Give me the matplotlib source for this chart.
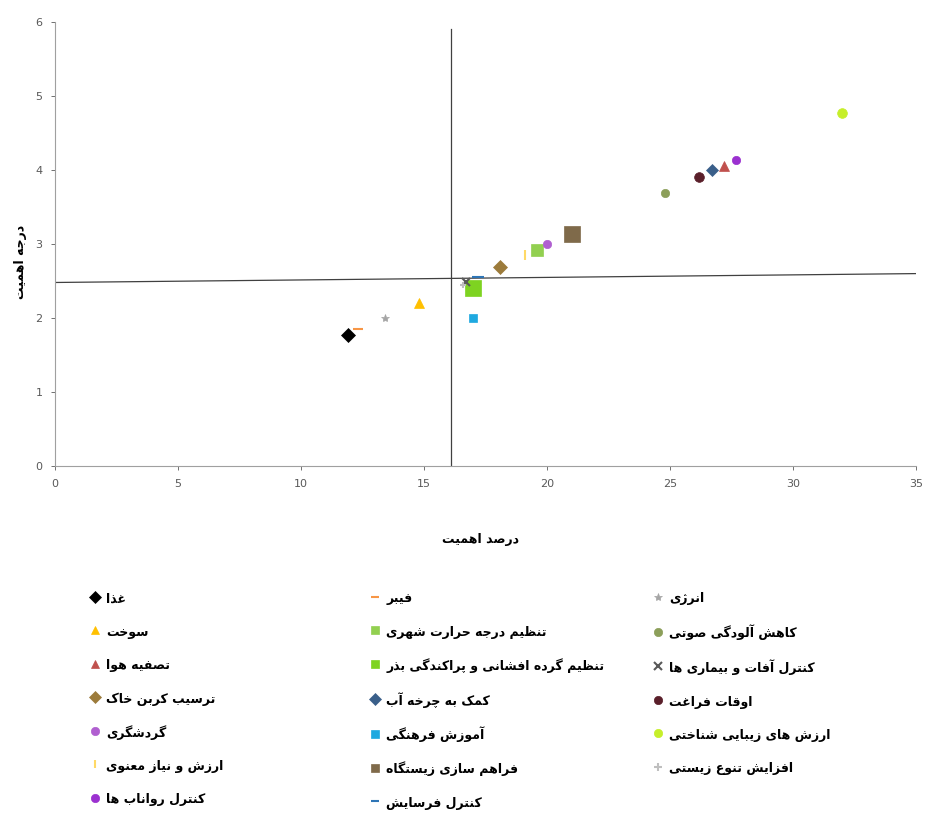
import matplotlib
matplotlib.use("Agg")
import matplotlib.pyplot as plt
from matplotlib.lines import Line2D

# series (legend order, row by row as in the reference)
labels = [
    "غذا", "فیبر", "انرژی",
    "سوخت", "تنظیم درجه حرارت شهری", "کاهش آلودگی صوتی",
    "تصفیه هوا", "تنظیم گرده افشانی و پراکندگی بذر", "کنترل آفات و بیماری ها",
    "ترسیب کربن خاک", "کمک به چرخه آب", "اوقات فراغت",
    "گردشگری", "آموزش فرهنگی", "ارزش های زیبایی شناختی",
    "ارزش و نیاز معنوی", "فراهم سازی زیستگاه", "افزایش تنوع زیستی",
    "کنترل رواناب ها", "کنترل فرسایش",
]
pct = [11.9, 12.3, 13.4, 14.8, 19.6, 24.8, 27.2, 17.0, 16.7, 18.1,
       26.7, 26.2, 20.0, 17.0, 32.0, 19.1, 21.0, 16.6, 27.7, 17.2]
rank = [1.77, 1.85, 2.0, 2.2, 2.92, 3.69, 4.05, 2.4, 2.49, 2.69,
        4.0, 3.91, 3.0, 2.0, 4.77, 2.85, 3.13, 2.45, 4.14, 2.55]

markers = ["D", "_", "*", "^", "s", "o", "^", "s", "x", "D",
           "D", "o", "o", "s", "o", "|", "s", "+", "o", "_"]
sizes = [7, 7, 6, 7, 8, 6, 7, 11, 6, 7, 6, 7, 6, 6, 7, 7, 11, 5, 6, 9]
colors = ["#000000", "#F79646", "#A5A5A5", "#FFC000", "#92D050", "#8C9F5A",
          "#C0504D", "#7ED321", "#595959", "#9C7B3B", "#3A5F8A", "#5A1F2A",
          "#B05FD0", "#1FA9E0", "#C6EF2A", "#FFD966", "#7F6A4A", "#BFBFBF",
          "#9B30D0", "#2E75B6"]

x_ticks = [0, 5, 10, 15, 20, 25, 30, 35]
y_ticks = [0, 1, 2, 3, 4, 5, 6]

# quadrant lines
v_line_x = [16.1, 16.1]
v_line_y = [0, 5.9]
h_line_x = [0, 35]
h_line_y = [2.48, 2.6]

# simple Persian shaping (matplotlib has no bidi / joining support)
FORMS = {
    "ا": ("\uFE8D", "\uFE8E", None, None), "آ": ("\uFE81", "\uFE82", None, None),
    "ب": ("\uFE8F", "\uFE90", "\uFE91", "\uFE92"), "پ": ("\uFB56", "\uFB57", "\uFB58", "\uFB59"),
    "ت": ("\uFE95", "\uFE96", "\uFE97", "\uFE98"), "ج": ("\uFE9D", "\uFE9E", "\uFE9F", "\uFEA0"),
    "چ": ("\uFB7A", "\uFB7B", "\uFB7C", "\uFB7D"), "ح": ("\uFEA1", "\uFEA2", "\uFEA3", "\uFEA4"),
    "خ": ("\uFEA5", "\uFEA6", "\uFEA7", "\uFEA8"), "د": ("\uFEA9", "\uFEAA", None, None),
    "ذ": ("\uFEAB", "\uFEAC", None, None), "ر": ("\uFEAD", "\uFEAE", None, None),
    "ز": ("\uFEAF", "\uFEB0", None, None), "ژ": ("\uFB8A", "\uFB8B", None, None),
    "س": ("\uFEB1", "\uFEB2", "\uFEB3", "\uFEB4"), "ش": ("\uFEB5", "\uFEB6", "\uFEB7", "\uFEB8"),
    "ص": ("\uFEB9", "\uFEBA", "\uFEBB", "\uFEBC"), "ظ": ("\uFEC5", "\uFEC6", "\uFEC7", "\uFEC8"),
    "ع": ("\uFEC9", "\uFECA", "\uFECB", "\uFECC"), "غ": ("\uFECD", "\uFECE", "\uFECF", "\uFED0"),
    "ف": ("\uFED1", "\uFED2", "\uFED3", "\uFED4"), "ق": ("\uFED5", "\uFED6", "\uFED7", "\uFED8"),
    "ک": ("\uFB8E", "\uFB8F", "\uFB90", "\uFB91"), "گ": ("\uFB92", "\uFB93", "\uFB94", "\uFB95"),
    "ل": ("\uFEDD", "\uFEDE", "\uFEDF", "\uFEE0"), "م": ("\uFEE1", "\uFEE2", "\uFEE3", "\uFEE4"),
    "ن": ("\uFEE5", "\uFEE6", "\uFEE7", "\uFEE8"), "ه": ("\uFEE9", "\uFEEA", "\uFEEB", "\uFEEC"),
    "و": ("\uFEED", "\uFEEE", None, None), "ی": ("\uFBFC", "\uFBFD", "\uFBFE", "\uFBFF"),
}


def fa(text):
    out = []
    for i, ch in enumerate(text):
        if ch not in FORMS:
            out.append(ch)
            continue
        prev = text[i - 1] if i > 0 else ""
        nxt = text[i + 1] if i + 1 < len(text) else ""
        iso, fin, ini, med = FORMS[ch]
        join_prev = prev in FORMS and FORMS[prev][2] is not None
        join_next = nxt in FORMS and ini is not None
        if join_prev and join_next:
            out.append(med)
        elif join_prev:
            out.append(fin)
        elif join_next:
            out.append(ini)
        else:
            out.append(iso)
    return "".join(reversed(out))


plt.rcParams["font.family"] = ["DejaVu Sans"]

fig = plt.figure(figsize=(9.27, 8.14), dpi=100)
ax = fig.add_axes([0.0593, 0.4275, 0.9287, 0.5455])

ax.plot(v_line_x, v_line_y, color="#404040", lw=0.9, zorder=1)
ax.plot(h_line_x, h_line_y, color="#404040", lw=0.9, zorder=1)

legend_handles = []
for i in range(len(labels)):
    thin = markers[i] in "_|x+"
    ax.plot(pct[i], rank[i], linestyle="none", marker=markers[i],
            markersize=sizes[i], color=colors[i], markeredgecolor=colors[i],
            markeredgewidth=1.5 if thin else 0.5, zorder=3)
    legend_handles.append(Line2D([], [], linestyle="none", marker=markers[i],
                                 markersize=6, color=colors[i],
                                 markeredgecolor=colors[i],
                                 markeredgewidth=1.5 if thin else 0.5))

ax.set_xlim(0, 35)
ax.set_ylim(0, 6)
ax.set_xticks(x_ticks)
ax.set_yticks(y_ticks)
ax.tick_params(labelsize=8, colors="#595959", length=3, width=0.6, pad=6)
for s in ["top", "right"]:
    ax.spines[s].set_visible(False)
for s in ["left", "bottom"]:
    ax.spines[s].set_color("#A0A0A0")
    ax.spines[s].set_linewidth(0.8)

fig.text(0.518, 0.337, fa("درصد اهمیت"), ha="center", va="center",
         fontsize=9, fontweight="bold")
fig.text(0.022, 0.678, fa("درجه اهمیت"), ha="center", va="center",
         rotation=90, fontsize=9, fontweight="bold")

# legend: three columns placed separately, entries filled row by row
col_x = [0.097, 0.399, 0.704]
for c in range(3):
    idx = list(range(c, len(labels), 3))
    fig.legend([legend_handles[i] for i in idx], [fa(labels[i]) for i in idx],
               loc="upper left", bbox_to_anchor=(col_x[c], 0.274),
               frameon=False, prop={"size": 9, "weight": "bold"},
               handlelength=0.8, handleheight=1.4, handletextpad=0.5,
               labelspacing=1.52, borderpad=0, borderaxespad=0)

fig.savefig("out.png", dpi=100)
